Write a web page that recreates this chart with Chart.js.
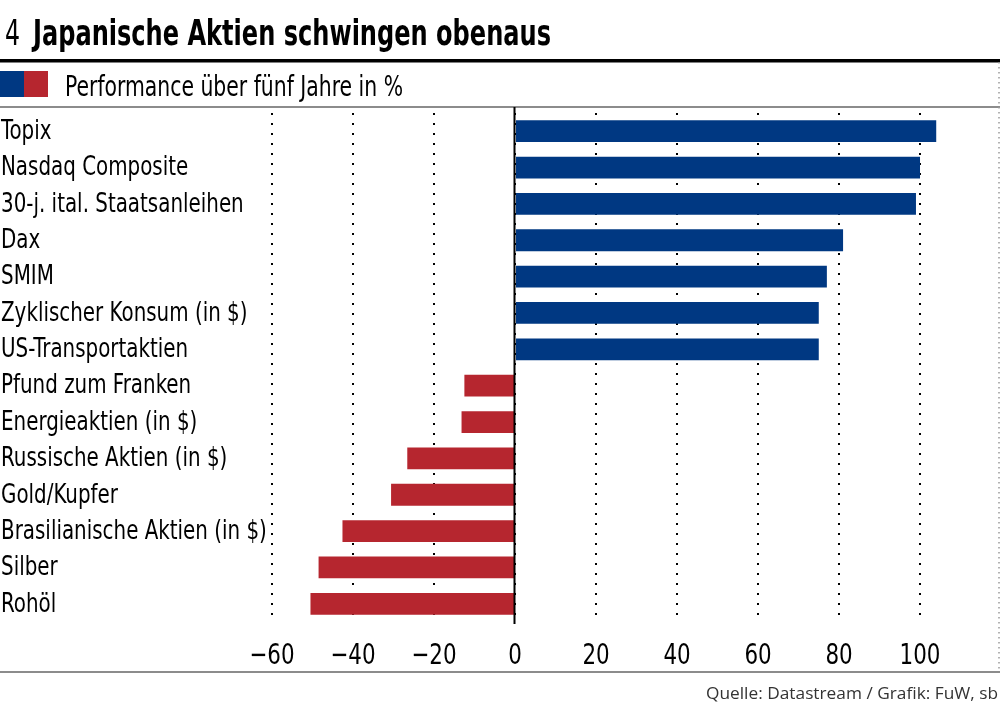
<!DOCTYPE html>
<html>
<head>
<meta charset="utf-8">
<script src="https://cdn.jsdelivr.net/npm/chart.js@4.4.0/dist/chart.umd.min.js"></script>
<style>
  html, body { margin: 0; padding: 0; background: #fff; }
  #wrap { width: 1000px; height: 720px; position: relative; }
</style>
</head>
<body>
<div id="wrap"><canvas id="grafica4"></canvas></div>
<script>
const categories = [
    'Topix', 'Nasdaq Composite', '30-j. ital. Staatsanleihen', 'Dax', 'SMIM',
    'Zyklischer Konsum (in $)', 'US-Transportaktien', 'Pfund zum Franken',
    'Energieaktien (in $)', 'Russische Aktien (in $)', 'Gold/Kupfer',
    'Brasilianische Aktien (in $)', 'Silber', 'Rohöl'
];
const performance = [104, 100, 99, 81, 77, 75, 75, -12.5, -13.2, -26.6, -30.6, -42.6, -48.5, -50.5];
const tickValues = [-60, -40, -20, 0, 20, 40, 60, 80, 100];

const blue = 'rgb(0, 56, 130)';
const red = 'rgb(182, 38, 47)';
const narrow = "'Liberation Sans Narrow', 'DejaVu Sans Condensed', sans-serif";

// Text squeezed or stretched to a given width
function fitText(ctx, text, x, y, width, font) {
    ctx.save();
    ctx.font = font;
    const w = ctx.measureText(text).width;
    ctx.translate(x, y);
    ctx.scale(width / w, 1);
    ctx.fillText(text, 0, 0);
    ctx.restore();
}

// Text with a fixed horizontal squeeze (the original uses a condensed face)
function squeezeText(ctx, text, x, y, factor, font, align) {
    ctx.save();
    ctx.font = font;
    const w = ctx.measureText(text).width * factor;
    let left = x;
    if (align === 'center') left = x - w / 2;
    ctx.translate(left, y);
    ctx.scale(factor, 1);
    ctx.fillText(text, 0, 0);
    ctx.restore();
}

const frame = {
    id: 'frame',
    beforeDraw(chart) {
        const ctx = chart.ctx;
        ctx.save();
        ctx.fillStyle = '#000';
        ctx.textBaseline = 'alphabetic';
        fitText(ctx, '4', 5, 45, 15, '36px ' + narrow);
        fitText(ctx, 'Japanische Aktien schwingen obenaus', 33, 45, 518, 'bold 36px ' + narrow);

        // black rule under the title
        ctx.fillRect(0, 59, 1000, 3.5);

        // legend swatch + text
        ctx.fillStyle = blue;
        ctx.fillRect(0, 71, 24, 26);
        ctx.fillStyle = red;
        ctx.fillRect(24, 71, 24, 26);
        ctx.fillStyle = '#000';
        fitText(ctx, 'Performance über fünf Jahre in %', 65, 96, 338, '28px ' + narrow);

        // grey rules
        ctx.fillStyle = '#8c8c8c';
        ctx.fillRect(0, 106, 1000, 2);
        ctx.fillRect(0, 671, 1000, 2);

        // dotted right border
        ctx.strokeStyle = '#9a9a9a';
        ctx.lineWidth = 1.5;
        ctx.setLineDash([1.5, 3.5]);
        ctx.beginPath();
        ctx.moveTo(999, 62);
        ctx.lineTo(999, 671);
        ctx.stroke();
        ctx.setLineDash([]);

        // source
        ctx.fillStyle = '#333';
        fitText(ctx, 'Quelle: Datastream / Grafik: FuW, sb', 706, 699, 292, '17px "Open Sans", sans-serif');
        ctx.restore();
    },
    afterDatasetsDraw(chart) {
        const ctx = chart.ctx;
        const xs = chart.scales.x;
        const ys = chart.scales.y;

        // solid zero line on top of the bars
        const x0 = Math.round(xs.getPixelForValue(0)) - 0.5;
        ctx.save();
        ctx.strokeStyle = '#000';
        ctx.lineWidth = 2;
        ctx.beginPath();
        ctx.moveTo(x0, 107);
        ctx.lineTo(x0, chart.chartArea.bottom + 2);
        ctx.stroke();

        // category labels, left aligned
        ctx.fillStyle = '#000';
        ctx.textBaseline = 'middle';
        categories.forEach((c, i) => {
            squeezeText(ctx, c, 1, ys.getPixelForTick(i) + 1, 0.85, '26px ' + narrow, 'left');
        });

        // x tick labels
        ctx.textBaseline = 'alphabetic';
        tickValues.forEach(v => {
            const txt = v < 0 ? '\u2212' + Math.abs(v) : String(v);
            squeezeText(ctx, txt, xs.getPixelForValue(v), 664, 0.82, '29px ' + narrow, 'center');
        });
        ctx.restore();
    }
};

const graph4 = document.querySelector('#grafica4');

const data4 = {
    labels: categories,
    datasets: [{
        data: performance,
        backgroundColor: ctx => ctx.raw >= 0 ? blue : red,
        barPercentage: 0.6,
        categoryPercentage: 1.0
    }]
};

const config4 = {
    type: 'bar',
    data: data4,
    options: {
        indexAxis: 'y',
        responsive: false,
        animation: false,
        devicePixelRatio: 1,
        layout: { padding: { top: 113, right: 1, bottom: 48, left: 0 } },
        plugins: {
            legend: { display: false },
            tooltip: { enabled: false }
        },
        scales: {
            x: {
                min: -60,
                max: 119.5,
                afterBuildTicks: scale => { scale.ticks = tickValues.map(v => ({ value: v })); },
                afterFit: scale => { scale.height = 50; },
                grid: {
                    color: '#000',
                    lineWidth: 2,
                    drawTicks: false
                },
                border: { display: false, dash: [2, 8], dashOffset: 0 },
                ticks: { display: false }
            },
            y: {
                afterFit: scale => { scale.width = 272; },
                grid: { display: false },
                border: { display: false },
                ticks: { display: false }
            }
        }
    },
    plugins: [frame]
};

graph4.width = 1000;
graph4.height = 720;
new Chart(graph4, config4);
</script>
</body>
</html>
